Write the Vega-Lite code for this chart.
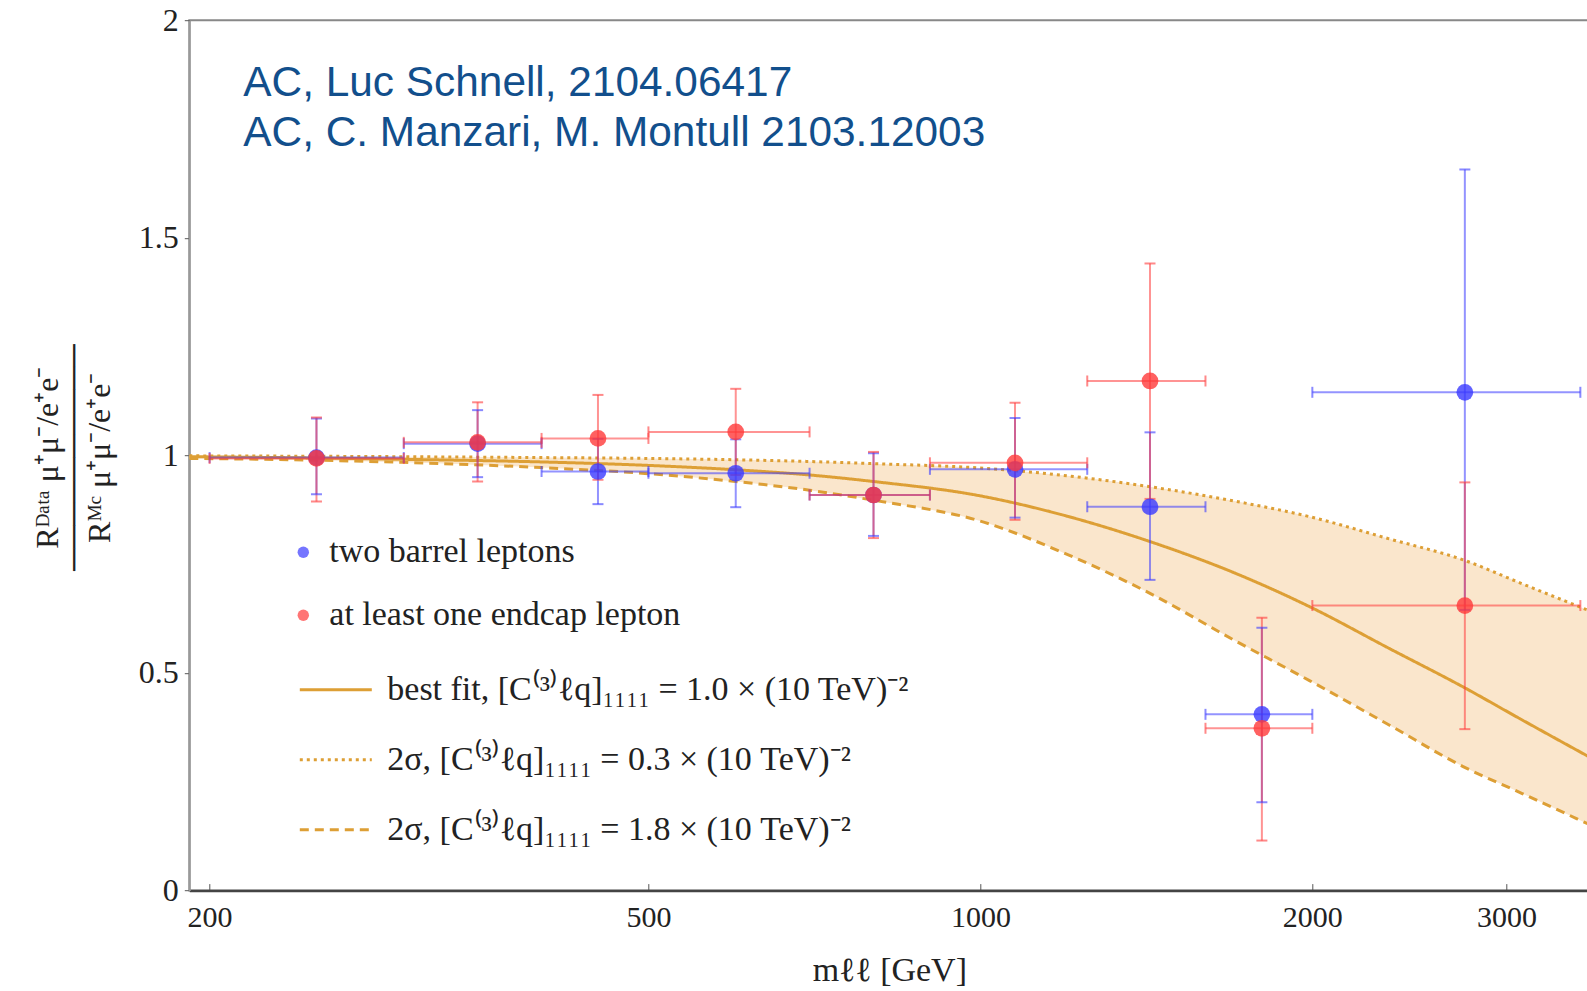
{
  "$schema": "https://vega.github.io/schema/vega-lite/v6.json",
  "width": 1400,
  "height": 870.4,
  "autosize": {"type": "none"},
  "padding": {"left": 189.3, "top": 20.2, "right": 0, "bottom": 100.4},
  "background": "white",
  "title": {
    "text": ["AC, Luc Schnell, 2104.06417", "AC, C. Manzari, M. Montull 2103.12003"],
    "anchor": "start",
    "frame": "group",
    "orient": "top",
    "align": "left",
    "baseline": "alphabetic",
    "offset": -184,
    "dx": 54,
    "font": "Liberation Sans",
    "fontSize": 42.4,
    "fontWeight": "normal",
    "color": "#124f8c",
    "lineHeight": 50
  },
  "config": {
    "view": {"stroke": "#888", "strokeWidth": 2},
    "font": "Liberation Serif",
    "axis": {"labelFont": "Liberation Serif", "titleFont": "Liberation Serif", "grid": false, "labelColor": "#222", "titleColor": "#222", "titleFontWeight": "normal"},
    "legend": {"labelFont": "Liberation Serif", "labelColor": "#222", "labelLimit": 0}
  },
  "datasets": {
    "points": [
      {"series": "two barrel leptons", "m": 250, "lo": 200, "hi": 300, "y": 0.995, "ylo": 0.911, "yhi": 1.085},
      {"series": "two barrel leptons", "m": 350, "lo": 300, "hi": 400, "y": 1.027, "ylo": 0.950, "yhi": 1.104},
      {"series": "two barrel leptons", "m": 450, "lo": 400, "hi": 500, "y": 0.963, "ylo": 0.888, "yhi": 1.038},
      {"series": "two barrel leptons", "m": 600, "lo": 500, "hi": 700, "y": 0.959, "ylo": 0.881, "yhi": 1.037},
      {"series": "two barrel leptons", "m": 800, "lo": 700, "hi": 900, "y": 0.909, "ylo": 0.815, "yhi": 1.005},
      {"series": "two barrel leptons", "m": 1075, "lo": 900, "hi": 1250, "y": 0.968, "ylo": 0.857, "yhi": 1.086},
      {"series": "two barrel leptons", "m": 1425, "lo": 1250, "hi": 1600, "y": 0.882, "ylo": 0.714, "yhi": 1.053},
      {"series": "two barrel leptons", "m": 1800, "lo": 1600, "hi": 2000, "y": 0.405, "ylo": 0.203, "yhi": 0.604},
      {"series": "two barrel leptons", "m": 2750, "lo": 2000, "hi": 3500, "y": 1.145, "ylo": 0.645, "yhi": 1.657},
      {"series": "at least one endcap lepton", "m": 250, "lo": 200, "hi": 300, "y": 0.993, "ylo": 0.894, "yhi": 1.087},
      {"series": "at least one endcap lepton", "m": 350, "lo": 300, "hi": 400, "y": 1.030, "ylo": 0.940, "yhi": 1.122},
      {"series": "at least one endcap lepton", "m": 450, "lo": 400, "hi": 500, "y": 1.039, "ylo": 0.944, "yhi": 1.139},
      {"series": "at least one endcap lepton", "m": 600, "lo": 500, "hi": 700, "y": 1.054, "ylo": 0.955, "yhi": 1.153},
      {"series": "at least one endcap lepton", "m": 800, "lo": 700, "hi": 900, "y": 0.909, "ylo": 0.810, "yhi": 1.008},
      {"series": "at least one endcap lepton", "m": 1075, "lo": 900, "hi": 1250, "y": 0.983, "ylo": 0.852, "yhi": 1.121},
      {"series": "at least one endcap lepton", "m": 1425, "lo": 1250, "hi": 1600, "y": 1.171, "ylo": 0.900, "yhi": 1.441},
      {"series": "at least one endcap lepton", "m": 1800, "lo": 1600, "hi": 2000, "y": 0.373, "ylo": 0.115, "yhi": 0.627},
      {"series": "at least one endcap lepton", "m": 2750, "lo": 2000, "hi": 3500, "y": 0.655, "ylo": 0.371, "yhi": 0.938}
    ],
    "curves": [
      {"m": 191.7, "best": 0.997, "up": 0.999, "down": 0.993},
      {"m": 250, "best": 0.994, "up": 0.998, "down": 0.989},
      {"m": 300, "best": 0.991, "up": 0.997, "down": 0.984},
      {"m": 400, "best": 0.985, "up": 0.995, "down": 0.972},
      {"m": 500, "best": 0.977, "up": 0.993, "down": 0.958},
      {"m": 600, "best": 0.967, "up": 0.990, "down": 0.940},
      {"m": 700, "best": 0.955, "up": 0.986, "down": 0.920},
      {"m": 800, "best": 0.940, "up": 0.981, "down": 0.897},
      {"m": 1000, "best": 0.907, "up": 0.971, "down": 0.849},
      {"m": 1200, "best": 0.860, "up": 0.953, "down": 0.772},
      {"m": 1425, "best": 0.802, "up": 0.928, "down": 0.683},
      {"m": 1700, "best": 0.730, "up": 0.895, "down": 0.575},
      {"m": 1990, "best": 0.652, "up": 0.859, "down": 0.482},
      {"m": 2350, "best": 0.556, "up": 0.808, "down": 0.380},
      {"m": 2740, "best": 0.468, "up": 0.760, "down": 0.285},
      {"m": 3100, "best": 0.392, "up": 0.705, "down": 0.223},
      {"m": 3566, "best": 0.307, "up": 0.643, "down": 0.152}
    ]
  },
  "layer": [
    {
      "data": {"name": "curves"},
      "mark": {"type": "area", "fill": "#fae6cc", "clip": true, "interpolate": "monotone"},
      "encoding": {
        "x": {"field": "m", "type": "quantitative",
          "scale": {"type": "log", "domain": [191.7, 3566], "nice": false},
          "axis": {"values": [200, 500, 1000, 2000, 3000], "format": "d", "title": "mℓℓ [GeV]", "titleFontSize": 34,
            "labelFontSize": 30, "tickSize": -7, "tickColor": "#555", "domainColor": "#444", "domainWidth": 2.5,
            "labelPadding": 19, "titlePadding": 21, "labelFlush": false}},
        "y": {"field": "up", "type": "quantitative",
          "scale": {"domain": [0, 2], "nice": false, "zero": false},
          "axis": {"values": [0, 0.5, 1, 1.5, 2], "format": "~g", "labelFontSize": 32, "tickSize": 5, "tickColor": "#555",
            "domainColor": "#999", "domainWidth": 2, "labelPadding": 6,
            "title": ["Rᴰᵃᵗᵃ μ⁺μ⁻/e⁺e⁻", "──────────", "Rᴹᶜ μ⁺μ⁻/e⁺e⁻"],
            "titleFontSize": 32, "titleAngle": -90, "titleX": -142, "titleY": 437, "titleAlign": "center",
            "titleBaseline": "middle", "titleLineHeight": 26}},
        "y2": {"field": "down"}
      }
    },
    {
      "data": {"name": "curves"},
      "transform": [{"fold": ["best", "up", "down"], "as": ["curve", "val"]}],
      "mark": {"type": "line", "stroke": "#dd9f35", "strokeWidth": 3, "clip": true, "interpolate": "monotone"},
      "encoding": {
        "x": {"field": "m", "type": "quantitative"},
        "y": {"field": "val", "type": "quantitative"},
        "strokeDash": {"field": "curve", "type": "nominal",
          "scale": {"domain": ["best", "up", "down"], "range": [[1, 0], [3, 4], [9, 6]]},
          "legend": {"orient": "none", "legendX": 109, "legendY": 632, "title": null, "labelFontSize": 34,
            "symbolSize": 5184, "symbolType": "stroke", "symbolStrokeColor": "#dd9f35", "symbolStrokeWidth": 3,
            "rowPadding": 15, "labelOffset": 14, "padding": 0,
            "labelExpr": "datum.value === 'best' ? 'best fit,  [C⁽³⁾ℓq]₁₁₁₁ = 1.0 × (10 TeV)⁻²' : datum.value === 'up' ? '2σ,  [C⁽³⁾ℓq]₁₁₁₁ = 0.3 × (10 TeV)⁻²' : '2σ,  [C⁽³⁾ℓq]₁₁₁₁ = 1.8 × (10 TeV)⁻²'"}}
      }
    },
    {
      "data": {"name": "points"},
      "mark": {"type": "rule", "strokeWidth": 2, "opacity": 0.55},
      "encoding": {
        "x": {"field": "m", "type": "quantitative"},
        "y": {"field": "ylo", "type": "quantitative"},
        "y2": {"field": "yhi"},
        "color": {"condition": {"test": "datum.series === 'two barrel leptons'", "value": "#3a3aff"}, "value": "#ff3a3a"}
      }
    },
    {
      "data": {"name": "points"},
      "mark": {"type": "rule", "strokeWidth": 2, "opacity": 0.55},
      "encoding": {
        "x": {"field": "lo", "type": "quantitative"},
        "x2": {"field": "hi"},
        "y": {"field": "y", "type": "quantitative"},
        "color": {"condition": {"test": "datum.series === 'two barrel leptons'", "value": "#3a3aff"}, "value": "#ff3a3a"}
      }
    },
    {
      "data": {"name": "points"},
      "mark": {"type": "tick", "orient": "horizontal", "size": 11, "thickness": 2, "opacity": 0.6},
      "encoding": {
        "x": {"field": "m", "type": "quantitative"},
        "y": {"field": "ylo", "type": "quantitative"},
        "color": {"condition": {"test": "datum.series === 'two barrel leptons'", "value": "#3a3aff"}, "value": "#ff3a3a"}
      }
    },
    {
      "data": {"name": "points"},
      "mark": {"type": "tick", "orient": "horizontal", "size": 11, "thickness": 2, "opacity": 0.6},
      "encoding": {
        "x": {"field": "m", "type": "quantitative"},
        "y": {"field": "yhi", "type": "quantitative"},
        "color": {"condition": {"test": "datum.series === 'two barrel leptons'", "value": "#3a3aff"}, "value": "#ff3a3a"}
      }
    },
    {
      "data": {"name": "points"},
      "mark": {"type": "tick", "orient": "vertical", "size": 11, "thickness": 2, "opacity": 0.6},
      "encoding": {
        "x": {"field": "lo", "type": "quantitative"},
        "y": {"field": "y", "type": "quantitative"},
        "color": {"condition": {"test": "datum.series === 'two barrel leptons'", "value": "#3a3aff"}, "value": "#ff3a3a"}
      }
    },
    {
      "data": {"name": "points"},
      "mark": {"type": "tick", "orient": "vertical", "size": 11, "thickness": 2, "opacity": 0.6},
      "encoding": {
        "x": {"field": "hi", "type": "quantitative"},
        "y": {"field": "y", "type": "quantitative"},
        "color": {"condition": {"test": "datum.series === 'two barrel leptons'", "value": "#3a3aff"}, "value": "#ff3a3a"}
      }
    },
    {
      "data": {"name": "points"},
      "mark": {"type": "point", "filled": true, "size": 280, "opacity": 0.8, "shape": "circle"},
      "encoding": {
        "x": {"field": "m", "type": "quantitative"},
        "y": {"field": "y", "type": "quantitative"},
        "color": {"field": "series", "type": "nominal",
          "scale": {"domain": ["two barrel leptons", "at least one endcap lepton"], "range": ["#3a3aff", "#ff3a3a"]},
          "legend": {"orient": "none", "legendX": 97, "legendY": 515, "title": null, "labelFontSize": 34,
            "symbolSize": 130, "symbolType": "circle", "rowPadding": 29, "labelOffset": 9, "symbolOpacity": 0.7, "padding": 0}}
      }
    }
  ]
}
